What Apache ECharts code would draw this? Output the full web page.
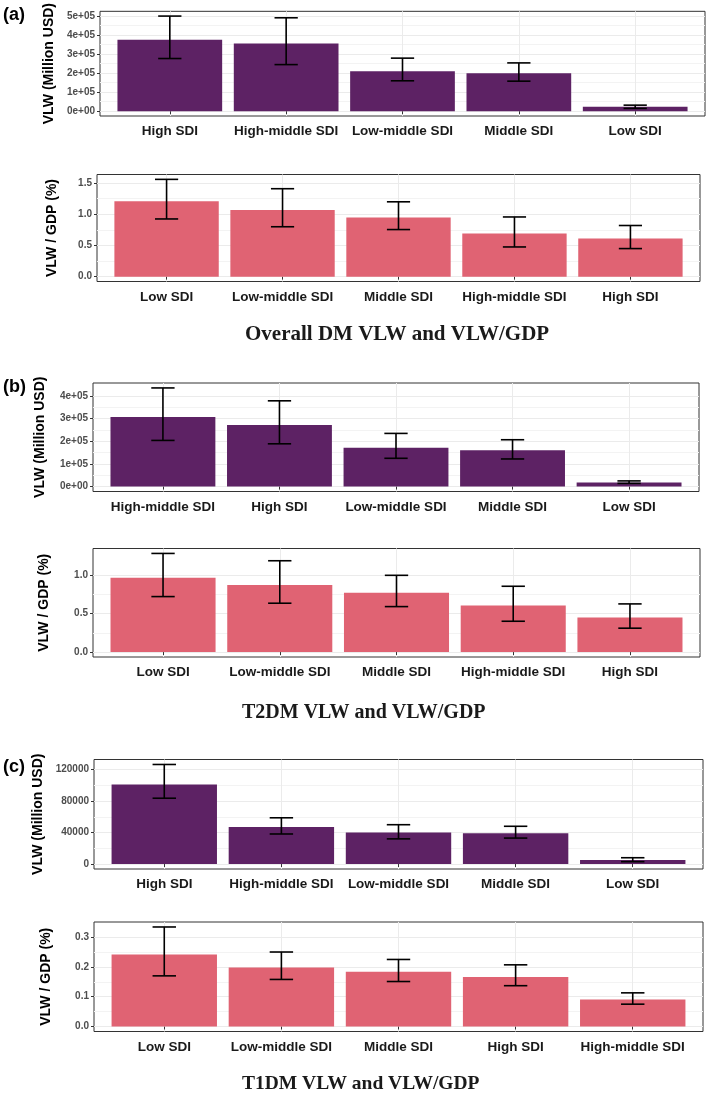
<!DOCTYPE html>
<html>
<head>
<meta charset="utf-8">
<title>VLW and VLW/GDP by SDI</title>
<script src="https://cdn.jsdelivr.net/npm/echarts@6/dist/echarts.min.js"></script>
<style>
  html, body { margin: 0; padding: 0; background: #fff; }
  #chart { width: 709px; height: 1093px; }
</style>
</head>
<body>
<div id="chart"></div>
<script>
// ---- data ----
// (a) overall DM
const catsA1 = ['High SDI', 'High-middle SDI', 'Low-middle SDI', 'Middle SDI', 'Low SDI'];
const vlwA = [375000, 356000, 210000, 199000, 24000];
const vlwALow = [277000, 245000, 160000, 158000, 15000];
const vlwAHigh = [500000, 491000, 279000, 254000, 32000];
const catsA2 = ['Low SDI', 'Low-middle SDI', 'Middle SDI', 'High-middle SDI', 'High SDI'];
const gdpA = [1.21, 1.07, 0.95, 0.69, 0.61];
const gdpALow = [0.925, 0.80, 0.755, 0.476, 0.45];
const gdpAHigh = [1.56, 1.41, 1.20, 0.957, 0.82];

// (b) T2DM
const catsB1 = ['High-middle SDI', 'High SDI', 'Low-middle SDI', 'Middle SDI', 'Low SDI'];
const vlwB = [308000, 272000, 172000, 160000, 18000];
const vlwBLow = [204000, 189000, 125000, 122000, 14000];
const vlwBHigh = [436000, 379000, 235000, 207000, 25000];
const catsB2 = ['Low SDI', 'Low-middle SDI', 'Middle SDI', 'High-middle SDI', 'High SDI'];
const gdpB = [0.965, 0.87, 0.77, 0.603, 0.448];
const gdpBLow = [0.72, 0.634, 0.59, 0.40, 0.31];
const gdpBHigh = [1.28, 1.185, 0.996, 0.854, 0.625];

// (c) T1DM
const catsC1 = ['High SDI', 'High-middle SDI', 'Low-middle SDI', 'Middle SDI', 'Low SDI'];
const vlwC = [101000, 47000, 40000, 39000, 5000];
const vlwCLow = [83700, 38200, 32000, 33000, 3000];
const vlwCHigh = [126600, 58800, 50000, 48000, 8000];
const catsC2 = ['Low SDI', 'Low-middle SDI', 'Middle SDI', 'High SDI', 'High-middle SDI'];
const gdpC = [0.242, 0.198, 0.184, 0.166, 0.091];
const gdpCLow = [0.170, 0.158, 0.151, 0.137, 0.075];
const gdpCHigh = [0.334, 0.25, 0.225, 0.207, 0.113];

// tick values / labels
const ticksA1 = [0, 100000, 200000, 300000, 400000, 500000];
const tickLabelsA1 = ['0e+00', '1e+05', '2e+05', '3e+05', '4e+05', '5e+05'];
const ticksB1 = [0, 100000, 200000, 300000, 400000];
const tickLabelsB1 = ['0e+00', '1e+05', '2e+05', '3e+05', '4e+05'];
const ticksC1 = [0, 40000, 80000, 120000];
const tickLabelsC1 = ['0', '40000', '80000', '120000'];
const ticksA2 = [0, 0.5, 1.0, 1.5];
const tickLabelsA2 = ['0.0', '0.5', '1.0', '1.5'];
const ticksB2 = [0, 0.5, 1.0];
const tickLabelsB2 = ['0.0', '0.5', '1.0'];
const ticksC2 = [0, 0.1, 0.2, 0.3];
const tickLabelsC2 = ['0.0', '0.1', '0.2', '0.3'];

const titles = ['Overall DM VLW and VLW/GDP', 'T2DM VLW and VLW/GDP', 'T1DM VLW and VLW/GDP'];
const tags = ['(a)', '(b)', '(c)'];

// ---- layout / styling ----
const PURPLE = '#5d2264';
const PINK = '#e06373';
const SANS = '"Liberation Sans", Arial, sans-serif';
const SERIF = '"Liberation Serif", "Times New Roman", serif';

const panels = [
  { cats: catsA1, val: vlwA, lo: vlwALow, hi: vlwAHigh, ticks: ticksA1, tickLabels: tickLabelsA1,
    ymin: -25000, ymax: 525000, name: 'VLW (Million USD)', color: PURPLE,
    left: 100, right: 705, top: 11, bottom: 116, nameGap: 43 },
  { cats: catsA2, val: gdpA, lo: gdpALow, hi: gdpAHigh, ticks: ticksA2, tickLabels: tickLabelsA2,
    ymin: -0.078, ymax: 1.638, name: 'VLW / GDP (%)', color: PINK,
    left: 97, right: 700, top: 174.5, bottom: 281.5, nameGap: 38 },
  { cats: catsB1, val: vlwB, lo: vlwBLow, hi: vlwBHigh, ticks: ticksB1, tickLabels: tickLabelsB1,
    ymin: -21800, ymax: 457800, name: 'VLW (Million USD)', color: PURPLE,
    left: 93, right: 699, top: 383, bottom: 491.5, nameGap: 46 },
  { cats: catsB2, val: gdpB, lo: gdpBLow, hi: gdpBHigh, ticks: ticksB2, tickLabels: tickLabelsB2,
    ymin: -0.064, ymax: 1.344, name: 'VLW / GDP (%)', color: PINK,
    left: 93, right: 700, top: 548.5, bottom: 657, nameGap: 42 },
  { cats: catsC1, val: vlwC, lo: vlwCLow, hi: vlwCHigh, ticks: ticksC1, tickLabels: tickLabelsC1,
    ymin: -6330, ymax: 132930, name: 'VLW (Million USD)', color: PURPLE,
    left: 94, right: 703, top: 759.5, bottom: 869, nameGap: 43 },
  { cats: catsC2, val: gdpC, lo: gdpCLow, hi: gdpCHigh, ticks: ticksC2, tickLabels: tickLabelsC2,
    ymin: -0.0167, ymax: 0.3507, name: 'VLW / GDP (%)', color: PINK,
    left: 94, right: 703, top: 922, bottom: 1031.5, nameGap: 41 }
];

const titlePos = [
  { left: 245, top: 324, size: 21 },
  { left: 242, top: 703, size: 20 },
  { left: 242, top: 1074, size: 19.5 }
];
const tagPos = [
  { left: 3, top: 6 },
  { left: 3, top: 378 },
  { left: 3, top: 758 }
];

function minorValues(ticks) {
  const out = [];
  for (let i = 0; i < ticks.length - 1; i++) out.push((ticks[i] + ticks[i + 1]) / 2);
  return out;
}

const grid = [];
const xAxis = [];
const yAxis = [];
const series = [];

panels.forEach(function (p, i) {
  grid.push({
    left: p.left, top: p.top,
    width: p.right - p.left, height: p.bottom - p.top,
    show: true, borderColor: '#333', borderWidth: 1, backgroundColor: '#fff'
  });
  const positions = p.cats.map(function (c, k) { return k + 1; });
  xAxis.push({
    type: 'value', gridIndex: i, min: 0.4, max: 5.6,
    axisLine: { show: false },
    axisTick: { show: true, customValues: positions, length: 3, lineStyle: { color: '#333' } },
    axisLabel: {
      customValues: positions, margin: 8.5,
      formatter: function (v) { return p.cats[Math.round(v) - 1] || ''; },
      color: '#1a1a1a', fontSize: 13.5, fontWeight: 'bold', fontFamily: SANS
    },
    splitLine: { show: true, lineStyle: { color: '#ebebeb', width: 1 } }
  });
  const tickLabels = p.tickLabels;
  const ticks = p.ticks;
  // main y axis
  yAxis.push({
    type: 'value', gridIndex: i, min: p.ymin, max: p.ymax,
    name: p.name, nameLocation: 'middle', nameGap: p.nameGap,
    nameTextStyle: { color: '#000', fontSize: 14, fontWeight: 'bold', fontFamily: SANS },
    axisLine: { show: false },
    axisTick: { show: true, customValues: ticks, length: 3, lineStyle: { color: '#333' } },
    axisLabel: {
      customValues: ticks, margin: 5,
      formatter: function (v) {
        const k = ticks.findIndex(function (t) { return Math.abs(t - v) < 1e-9 * Math.max(1, Math.abs(t)); });
        return k >= 0 ? tickLabels[k] : '';
      },
      color: '#4d4d4d', fontSize: 10, fontWeight: 'bold', fontFamily: SANS
    },
    splitLine: { show: true, lineStyle: { color: '#ebebeb', width: 1 } }
  });
  // minor grid y axis
  yAxis.push({
    type: 'value', gridIndex: i, min: p.ymin, max: p.ymax,
    axisLine: { show: false },
    axisTick: { show: false, customValues: minorValues(ticks) },
    axisLabel: { show: false },
    splitLine: { show: true, lineStyle: { color: '#f3f3f3', width: 1 } }
  });

  const barData = p.val.map(function (v, k) { return [k + 1, v]; });
  const errData = p.lo.map(function (lo, k) { return [k + 1, lo, p.hi[k]]; });
  const color = p.color;

  series.push({
    type: 'custom', xAxisIndex: i, yAxisIndex: 2 * i,
    data: barData, encode: { x: 0, y: 1 }, z: 2, silent: true,
    renderItem: function (params, api) {
      const x = api.value(0);
      const a = api.coord([x - 0.45, 0]);
      const b = api.coord([x + 0.45, api.value(1)]);
      return {
        type: 'rect',
        shape: { x: a[0], y: b[1], width: b[0] - a[0], height: a[1] - b[1] },
        style: { fill: color }
      };
    }
  });
  series.push({
    type: 'custom', xAxisIndex: i, yAxisIndex: 2 * i,
    data: errData, encode: { x: 0, y: [1, 2] }, z: 3, silent: true,
    renderItem: function (params, api) {
      const x = api.value(0);
      const lo = api.coord([x, api.value(1)]);
      const hi = api.coord([x, api.value(2)]);
      const half = api.size([0.1, 0])[0];
      const st = { stroke: '#000', lineWidth: 1.6 };
      return {
        type: 'group',
        children: [
          { type: 'line', shape: { x1: lo[0], y1: lo[1], x2: hi[0], y2: hi[1] }, style: st },
          { type: 'line', shape: { x1: hi[0] - half, y1: hi[1], x2: hi[0] + half, y2: hi[1] }, style: st },
          { type: 'line', shape: { x1: lo[0] - half, y1: lo[1], x2: lo[0] + half, y2: lo[1] }, style: st }
        ]
      };
    }
  });
});

const chart = echarts.init(document.getElementById('chart'), null, { renderer: 'canvas' });
chart.setOption({
  backgroundColor: '#fff',
  animation: false,
  title: titles.map(function (t, i) {
    return {
      text: t, left: titlePos[i].left, top: titlePos[i].top, padding: 0,
      textStyle: { fontFamily: SERIF, fontSize: titlePos[i].size, fontWeight: 'bold', color: '#1a1a1a' }
    };
  }),
  graphic: tags.map(function (t, i) {
    return {
      type: 'text', left: tagPos[i].left, top: tagPos[i].top,
      style: { text: t, fontFamily: SANS, fontSize: 18, fontWeight: 'bold', fill: '#000' }
    };
  }),
  grid: grid,
  xAxis: xAxis,
  yAxis: yAxis,
  series: series
});
</script>
</body>
</html>
